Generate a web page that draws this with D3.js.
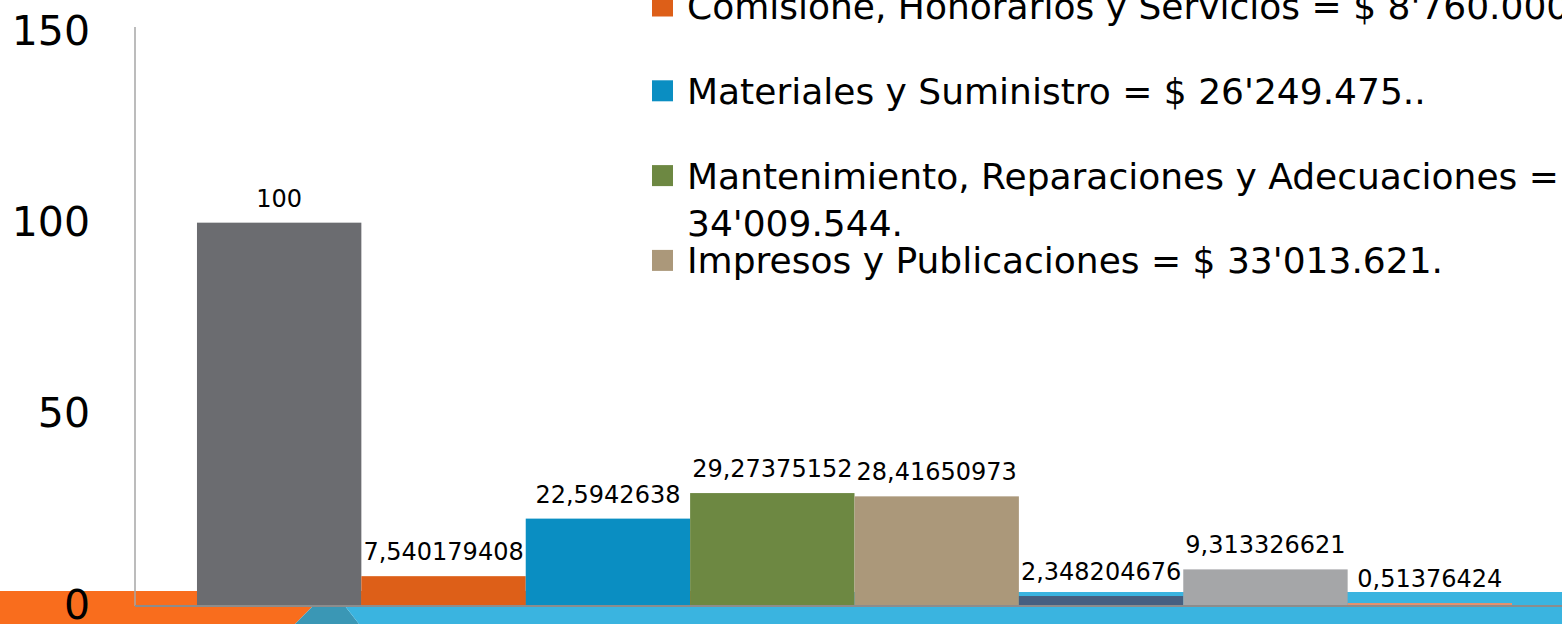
<!DOCTYPE html>
<html>
<head>
<meta charset="utf-8">
<script src="https://cdn.jsdelivr.net/npm/d3@7/dist/d3.min.js"></script>
<style>
  html, body { margin: 0; padding: 0; background: #ffffff; overflow: hidden; }
  svg { display: block; }
  text { font-family: "DejaVu Sans", sans-serif; fill: #000000; }
</style>
</head>
<body>
<script>
// bar categories, left to right
const categories = [
    "Total",
    "Comisione, Honorarios y Servicios",
    "Materiales y Suministro",
    "Mantenimiento, Reparaciones y Adecuaciones",
    "Impresos y Publicaciones",
    "Serie 6",
    "Serie 7",
    "Serie 8"
];

// percentage of the total for each bar
const values = [100, 7.540179408, 22.5942638, 29.27375152, 28.41650973, 2.348204676, 9.313326621, 0.51376424];

// bar colors, same order as categories
const barColors = ["#6b6c70", "#dd5f18", "#0a8ec2", "#6d8842", "#ab987a", "#465f80", "#a5a6a8", "#e8906c"];

// y axis ticks
const yTicks = [0, 50, 100, 150];

// legend entries that are visible (some lines wrap)
const legendLabels = [
    ["Comisione, Honorarios y Servicios = $ 8'760.000"],
    ["Materiales y Suministro = $ 26'249.475.."],
    ["Mantenimiento, Reparaciones y Adecuaciones =", "34'009.544."],
    ["Impresos y Publicaciones = $ 33'013.621."]
];
const legendColors = ["#dd5f18", "#0a8ec2", "#6d8842", "#ab987a"];

// canvas size
const WIDTH = 1562;
const HEIGHT = 624;

// plot area
const PLOT_LEFT = 135;
const PLOT_RIGHT = 1574;
const PLOT_BOTTOM = 605;
const PLOT_TOP = 31.5;

// legend layout
const LEGEND_X = 652;
const LEGEND_TOP = -4.5;
const LEGEND_STEP = 84.8;
const SWATCH = 21;

const svg = d3.select("body")
    .append("svg")
    .attr("width", WIDTH)
    .attr("height", HEIGHT);

// background theme bands at the bottom of the slide
const deco = svg.append("g").classed("deco", true);
deco.append("rect").attr("x", 0).attr("y", 591).attr("width", 700).attr("height", 16).style("fill", "#f96d1d");
deco.append("rect").attr("x", 700).attr("y", 592).attr("width", WIDTH - 700).attr("height", 15).style("fill", "#3ab4e0");
deco.append("polygon").attr("points", "0,606 313,606 295,624 0,624").style("fill", "#f96d1d");
deco.append("polygon").attr("points", "313,606 345,606 359,624 295,624").style("fill", "#3a97b5");
deco.append("polygon").attr("points", `345,606 ${WIDTH},606 ${WIDTH},624 359,624`).style("fill", "#3ab4e0");

// scales
const x = d3.scaleBand()
    .domain(categories)
    .range([PLOT_LEFT, PLOT_RIGHT])
    .paddingInner(0)
    .paddingOuter(0.377);

const y = d3.scaleLinear()
    .domain([0, 150])
    .range([PLOT_BOTTOM, PLOT_TOP]);

// y axis: labels only, the line is drawn separately
const yAxis = svg.append("g")
    .attr("transform", `translate(${PLOT_LEFT},0)`)
    .call(d3.axisLeft(y).tickValues(yTicks).tickSize(0).tickPadding(45));
yAxis.select(".domain").remove();
yAxis.selectAll("text")
    .style("font-family", "'DejaVu Sans', sans-serif")
    .style("font-size", "41px")
    .style("fill", "#000000");

// vertical axis line
svg.append("line")
    .attr("x1", PLOT_LEFT).attr("x2", PLOT_LEFT)
    .attr("y1", 27).attr("y2", PLOT_BOTTOM + 1)
    .style("stroke", "#a6a6a6")
    .style("stroke-width", 1.5);

// bars
svg.selectAll("rect.bar")
    .data(values)
    .enter()
    .append("rect").classed("bar", true)
    .attr("x", (d, i) => x(categories[i]))
    .attr("width", x.bandwidth())
    .attr("y", d => y(d))
    .attr("height", d => y(0) - y(d))
    .style("fill", (d, i) => barColors[i]);

// horizontal axis line
svg.append("line")
    .attr("x1", PLOT_LEFT).attr("x2", WIDTH)
    .attr("y1", PLOT_BOTTOM + 1).attr("y2", PLOT_BOTTOM + 1)
    .style("stroke", "#8c8c8c")
    .style("stroke-width", 2);

// value labels above bars, with decimal comma
svg.selectAll("text.value")
    .data(values)
    .enter()
    .append("text").classed("value", true)
    .attr("x", (d, i) => x(categories[i]) + x.bandwidth() / 2)
    .attr("y", d => y(d) - 16)
    .attr("text-anchor", "middle")
    .style("font-size", "24px")
    .text(d => String(d).replace(".", ","));

// legend
const legend = svg.selectAll("g.legend")
    .data(legendLabels)
    .enter()
    .append("g").classed("legend", true)
    .attr("transform", (d, i) => `translate(${LEGEND_X},${LEGEND_TOP + i * LEGEND_STEP})`);

legend.append("rect")
    .attr("width", SWATCH)
    .attr("height", SWATCH)
    .style("fill", (d, i) => legendColors[i]);

legend.append("text")
    .attr("x", 35)
    .attr("y", SWATCH / 2 + 13)
    .style("font-size", "36px")
    .selectAll("tspan")
    .data(d => d)
    .enter()
    .append("tspan")
    .attr("x", 35)
    .attr("dy", (d, i) => i === 0 ? 0 : 47)
    .text(d => d);
</script>
</body>
</html>
